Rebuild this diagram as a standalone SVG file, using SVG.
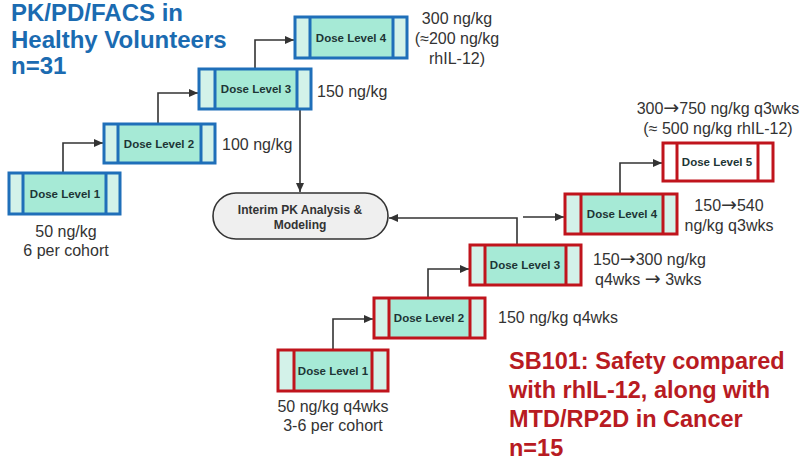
<svg xmlns="http://www.w3.org/2000/svg" width="804" height="461" viewBox="0 0 804 461">
<style>
  .side { fill: #d3f2e9; }
  .mint { fill: #a6ead6; }
  .white { fill: #ffffff; }
  .bstroke { fill: none; stroke: #1f6fb9; stroke-width: 3; }
  .rstroke { fill: none; stroke: #c0141c; stroke-width: 3; }
  .dl { font-family: "Liberation Sans", Arial, sans-serif; font-weight: bold; font-size: 11.5px; fill: #1d3535; text-anchor: middle; }
  .lab { font-family: "Liberation Sans", Arial, sans-serif; font-size: 16px; fill: #333333; }
  .mid { text-anchor: middle; }
  .ar { font-family: "DejaVu Sans", sans-serif; font-size: 19px; }
  .conn { fill: none; stroke: #333333; stroke-width: 1.6; }
  .btitle { font-family: "Liberation Sans", Arial, sans-serif; font-weight: bold; font-size: 24px; fill: #1b6bb1; }
  .rtitle { font-family: "Liberation Sans", Arial, sans-serif; font-weight: bold; font-size: 23.5px; fill: #b81b22; }
  .pk { font-family: "Liberation Sans", Arial, sans-serif; font-weight: bold; font-size: 12px; fill: #333333; text-anchor: middle; }
</style>
<defs>
  <marker id="arr" markerWidth="10" markerHeight="10" refX="9" refY="5" orient="auto" markerUnits="userSpaceOnUse">
    <path d="M0,1 L9,5 L0,9 Z" fill="#333333"/>
  </marker>
</defs>

<g id="title-blue">
  <text class="btitle" x="11" y="21">PK/PD/FACS in</text>
  <text class="btitle" x="11" y="47.5">Healthy Volunteers</text>
  <text class="btitle" x="11" y="74">n=31</text>
</g>

<g id="title-red">
  <text class="rtitle" x="509" y="369">SB101: Safety compared</text>
  <text class="rtitle" x="509" y="398">with rhIL-12, along with</text>
  <text class="rtitle" x="509" y="427">MTD/RP2D in Cancer</text>
  <text class="rtitle" x="509" y="456">n=15</text>
</g>

<g id="connectors">
  <path class="conn" d="M63,173 V143 H103" marker-end="url(#arr)"/>
  <path class="conn" d="M158,124 V93 H198" marker-end="url(#arr)"/>
  <path class="conn" d="M255,69 V40 H294" marker-end="url(#arr)"/>
  <path class="conn" d="M300,109 V192" marker-end="url(#arr)"/>
  <path class="conn" d="M333,350 V319 H373" marker-end="url(#arr)"/>
  <path class="conn" d="M428,298 V269 H469" marker-end="url(#arr)"/>
  <path class="conn" d="M517,245 V218 H389" marker-end="url(#arr)"/>
  <path class="conn" d="M523,217 H564" marker-end="url(#arr)"/>
  <path class="conn" d="M620,194 V163 H662" marker-end="url(#arr)"/>
</g>

<g id="interim">
  <rect x="213" y="193" width="175" height="46" rx="23" ry="23" fill="#efefef" stroke="#333333" stroke-width="1.6"/>
  <text class="pk" x="300" y="214">Interim PK Analysis &amp;</text>
  <text class="pk" x="300" y="229">Modeling</text>
</g>

<g id="b-dl1">
  <rect class="side" x="9" y="173" width="111" height="41"/>
  <rect class="mint" x="23" y="173" width="84" height="41"/>
  <rect class="bstroke" x="9" y="173" width="111" height="41"/>
  <line class="bstroke" x1="23" y1="173" x2="23" y2="214"/>
  <line class="bstroke" x1="106" y1="173" x2="106" y2="214"/>
  <text class="dl" x="65" y="198">Dose Level 1</text>
</g>
<g id="b-dl2">
  <rect class="side" x="104" y="124" width="111" height="39"/>
  <rect class="mint" x="118" y="124" width="84" height="39"/>
  <rect class="bstroke" x="104" y="124" width="111" height="39"/>
  <line class="bstroke" x1="118" y1="124" x2="118" y2="163"/>
  <line class="bstroke" x1="201" y1="124" x2="201" y2="163"/>
  <text class="dl" x="159" y="148">Dose Level 2</text>
</g>
<g id="b-dl3">
  <rect class="side" x="199" y="69" width="112" height="40"/>
  <rect class="mint" x="215" y="69" width="82" height="40"/>
  <rect class="bstroke" x="199" y="69" width="112" height="40"/>
  <line class="bstroke" x1="215" y1="69" x2="215" y2="109"/>
  <line class="bstroke" x1="297" y1="69" x2="297" y2="109"/>
  <text class="dl" x="256" y="93">Dose Level 3</text>
</g>
<g id="b-dl4">
  <rect class="side" x="295" y="17" width="112" height="41"/>
  <rect class="mint" x="310" y="17" width="83" height="41"/>
  <rect class="bstroke" x="295" y="17" width="112" height="41"/>
  <line class="bstroke" x1="310" y1="17" x2="310" y2="58"/>
  <line class="bstroke" x1="393" y1="17" x2="393" y2="58"/>
  <text class="dl" x="351" y="42">Dose Level 4</text>
</g>

<g id="r-dl1">
  <rect class="side" x="278" y="350" width="110" height="41"/>
  <rect class="mint" x="294" y="350" width="78" height="41"/>
  <rect class="rstroke" x="278" y="350" width="110" height="41"/>
  <line class="rstroke" x1="294" y1="350" x2="294" y2="391"/>
  <line class="rstroke" x1="372" y1="350" x2="372" y2="391"/>
  <text class="dl" x="333" y="375">Dose Level 1</text>
</g>
<g id="r-dl2">
  <rect class="side" x="374" y="298" width="111" height="40"/>
  <rect class="mint" x="389" y="298" width="81" height="40"/>
  <rect class="rstroke" x="374" y="298" width="111" height="40"/>
  <line class="rstroke" x1="389" y1="298" x2="389" y2="338"/>
  <line class="rstroke" x1="470" y1="298" x2="470" y2="338"/>
  <text class="dl" x="429" y="322">Dose Level 2</text>
</g>
<g id="r-dl3">
  <rect class="side" x="470" y="245" width="111" height="40"/>
  <rect class="mint" x="485" y="245" width="81" height="40"/>
  <rect class="rstroke" x="470" y="245" width="111" height="40"/>
  <line class="rstroke" x1="485" y1="245" x2="485" y2="285"/>
  <line class="rstroke" x1="566" y1="245" x2="566" y2="285"/>
  <text class="dl" x="525" y="269">Dose Level 3</text>
</g>
<g id="r-dl4">
  <rect class="side" x="565" y="194" width="112" height="40"/>
  <rect class="mint" x="581" y="194" width="82" height="40"/>
  <rect class="rstroke" x="565" y="194" width="112" height="40"/>
  <line class="rstroke" x1="581" y1="194" x2="581" y2="234"/>
  <line class="rstroke" x1="663" y1="194" x2="663" y2="234"/>
  <text class="dl" x="622" y="218">Dose Level 4</text>
</g>
<g id="r-dl5">
  <rect class="white" x="663" y="143" width="110" height="38"/>
  <rect class="rstroke" x="663" y="143" width="110" height="38"/>
  <line class="rstroke" x1="677" y1="143" x2="677" y2="181"/>
  <line class="rstroke" x1="758" y1="143" x2="758" y2="181"/>
  <text class="dl" x="717" y="166">Dose Level 5</text>
</g>

<g id="labels">
  <text class="lab mid" x="457" y="24">300 ng/kg</text>
  <text class="lab mid" x="457" y="44">(≈200 ng/kg</text>
  <text class="lab mid" x="457" y="64">rhIL-12)</text>
  <text class="lab" x="317" y="97">150 ng/kg</text>
  <text class="lab" x="222" y="150">100 ng/kg</text>
  <text class="lab mid" x="66" y="237">50 ng/kg</text>
  <text class="lab mid" x="66" y="256">6 per cohort</text>
  <text class="lab mid" x="718" y="114">300<tspan class="ar">→</tspan>750 ng/kg q3wks</text>
  <text class="lab mid" x="718" y="134">(≈ 500 ng/kg rhIL-12)</text>
  <text class="lab mid" x="729" y="211">150<tspan class="ar">→</tspan>540</text>
  <text class="lab mid" x="729" y="231">ng/kg q3wks</text>
  <text class="lab" x="593" y="265">150<tspan class="ar">→</tspan>300 ng/kg</text>
  <text class="lab" x="595" y="285">q4wks <tspan class="ar">→</tspan> 3wks</text>
  <text class="lab" x="498" y="323">150 ng/kg q4wks</text>
  <text class="lab mid" x="333" y="412">50 ng/kg q4wks</text>
  <text class="lab mid" x="333" y="431">3-6 per cohort</text>
</g>
</svg>
